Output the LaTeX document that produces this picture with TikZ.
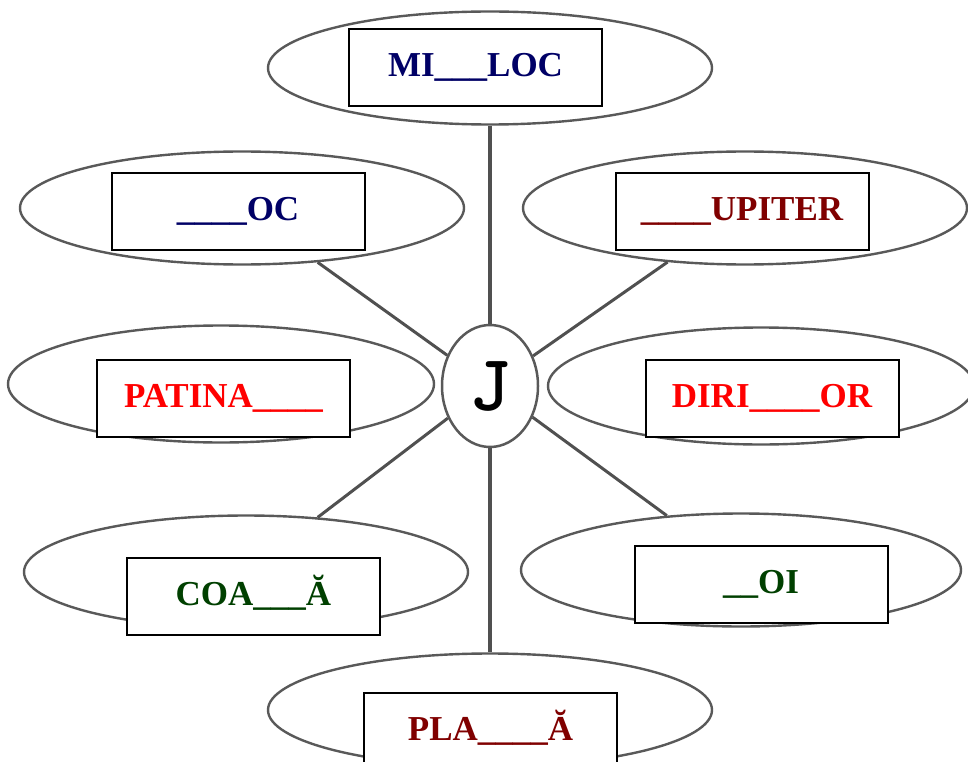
\documentclass[tikz,border=0pt]{standalone}
\usepackage{fontspec}
\setmainfont{Liberation Serif}
\usetikzlibrary{shapes.geometric}
\definecolor{wordnavy}{RGB}{0,0,102}
\definecolor{wordmaroon}{RGB}{128,0,0}
\definecolor{wordred}{RGB}{255,0,0}
\definecolor{wordgreen}{RGB}{0,64,0}
\definecolor{linegray}{RGB}{80,80,80}

\begin{document}
\begin{tikzpicture}[x=1pt, y=-1pt,
			bubble/.style={ellipse, draw=black!65, line width=2.4pt, fill=white, minimum width=444pt, minimum height=113pt, inner sep=0pt},
			word/.style={rectangle, draw, line width=2pt, fill=white, minimum width=253pt, minimum height=77pt, inner sep=0pt, font=\bfseries\fontsize{35}{40}\selectfont, text height=23pt, text depth=5pt},
			spoke/.style={draw=linegray, line width=3pt},
			stem/.style={draw=linegray, line width=4.5pt}
		]
		\useasboundingbox (0,0) rectangle (968,762);
		\clip (0,0) rectangle (968,762);
		
		% Bubbles
		\node[bubble] (topb) at (490,68) {};
		\node[bubble] (left2b) at (242,208) {};
		\node[bubble] (right2b) at (745,208) {};
		\node[bubble, minimum width=426pt, minimum height=117pt] (left3b) at (221,384) {};
		\node[bubble, minimum width=426pt, minimum height=117pt] (right3b) at (761,386) {};
		\node[bubble] (left4b) at (246,572) {};
		\node[bubble, minimum width=440pt] (right4b) at (741,570) {};
		\node[bubble] (bottomb) at (490,710) {};
		
		% Centre letter
		\node[ellipse, draw=black!65, line width=2.5pt, fill=white, minimum width=96pt, minimum height=122pt, inner sep=0pt, font=\ttfamily\bfseries\fontsize{80}{82}\selectfont] (hub) at (490,386) {J};
		
		\draw[stem] (topb) -- (hub);
		\draw[stem] (hub) -- (bottomb);
		\draw[spoke] (left2b) -- (hub);
		\draw[spoke] (right2b) -- (hub);
		\draw[spoke] (left4b) -- (hub);
		\draw[spoke] (right4b) -- (hub);
		
		% Words
		\node[word, text=wordnavy] (miloc) at (475.5,68) {MI\_\_\_LOC};
		\node[word, text=wordnavy] (oc) at (238,211.5) {\_\_\_\_OC};
		\node[word, text=wordmaroon] (upiter) at (742,211.5) {\_\_\_\_UPITER};
		\node[word, text=wordred] (patina) at (223.5,398.5) {PATINA\_\_\_\_};
		\node[word, text=wordred] (dirior) at (772,398.5) {DIRI\_\_\_\_OR};
		\node[word, text=wordgreen] (coaa) at (253.5,596.5) {COA\_\_\_Ă};
		\node[word, text=wordgreen] (oi) at (761,584) {\_\_OI};
		\node[word, text=wordmaroon] (plaa) at (490.5,731.5) {PLA\_\_\_\_Ă};
		\end{tikzpicture}
\end{document}
